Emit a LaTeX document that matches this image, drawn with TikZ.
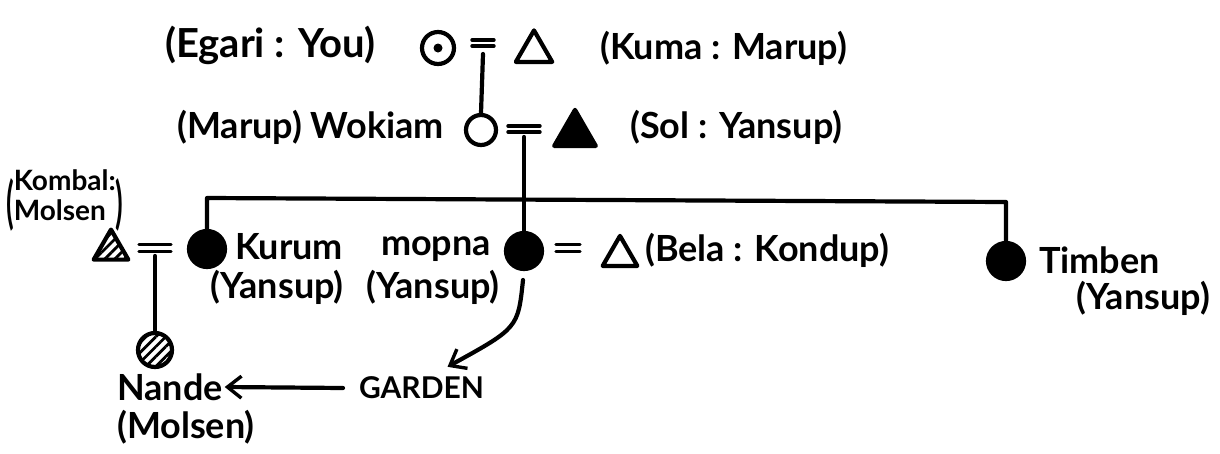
\documentclass[tikz,border=0pt]{standalone}
\usepackage{fontspec}
\setmainfont{Lato}
\usetikzlibrary{shapes.geometric,patterns.meta,arrows.meta}
\begin{document}
\begin{tikzpicture}[x=1pt,y=-1pt,line width=4.2pt,line cap=round,line join=round,
  lbl/.style={font=\fontsize{36}{38}\selectfont\bfseries,inner sep=0pt},
  big/.style={font=\fontsize{40}{42}\selectfont\bfseries,inner sep=0pt},
  small/.style={font=\fontsize{28}{30}\selectfont\bfseries,inner sep=0pt},
  fem/.style={circle,draw,minimum size=#1,inner sep=0pt},
  male/.style={regular polygon,regular polygon sides=3,draw,minimum size=#1,inner sep=0pt,anchor=south},
  hatch/.style={pattern={Lines[angle=45,distance=7pt,line width=2.8pt]}},
  eqline/.style={line width=3.4pt},
  barb/.style={-{Straight Barb[length=14pt,width=22pt,line width=3.4pt]}}
]
\useasboundingbox (0,0) rectangle (1220,453);

% generation 1
\node[big,anchor=west] (egarilbl) at (163,45) {(Egari : You)};
\node[fem=32pt] (egari) at (438,48) {};
\fill (egari.center) circle (4.5pt);
\node[male=42pt] (kuma) at (534,64) {};
\node[lbl,anchor=west] (kumalbl) at (598,48) {(Kuma : Marup)};
\coordinate (m1) at (483,43);
\draw[eqline] ([xshift=-11pt,yshift=-3pt]m1) -- ([xshift=11pt,yshift=-3pt]m1);
\draw[eqline] ([xshift=-11pt,yshift=3pt]m1) -- ([xshift=11pt,yshift=3pt]m1);

% generation 2
\node[lbl,anchor=east] (wokiamlbl) at (446,127) {(Marup) Wokiam};
\node[fem=30pt] (wokiam) at (481,130) {};
\node[male=48pt,fill] (sol) at (575,148) {};
\node[lbl,anchor=west] (sollbl) at (628,127) {(Sol : Yansup)};
\coordinate (m2) at (524,129);
\draw[eqline] ([xshift=-16pt,yshift=-3pt]m2) -- ([xshift=16pt,yshift=-3pt]m2);
\draw[eqline] ([xshift=-16pt,yshift=3pt]m2) -- ([xshift=16pt,yshift=3pt]m2);
\draw (m1 |- 0,54) -- (wokiam.north);

% generation 3
\node[fem=36pt,fill] (kurum) at (207,249) {};
\node[fem=36pt,fill] (mopna) at (524,251) {};
\node[fem=36pt,fill] (timben) at (1006,261) {};
\coordinate (barL) at (207,198);
\coordinate (barR) at (1006,202);
\draw (kurum.north) -- (barL) -- (barR) -- (timben.north);
\draw (m2 |- 0,137) -- (mopna.north);

\node[lbl,anchor=west] (kurumlbl) at (233,247) {Kurum};
\node[lbl,anchor=west] (kurumcl) at (208,287) {(Yansup)};
\node[lbl,anchor=east] (mopnalbl) at (493,249) {mopna};
\node[lbl,anchor=west] (mopnacl) at (364,287) {(Yansup)};
\node[lbl,anchor=west] (timbenlbl) at (1037,260) {Timben};
\node[lbl,anchor=east] (timbencl) at (1212,298) {(Yansup)};

% Kombal
\node[male=40pt,hatch,draw] (kombal) at (111,261) {};
\node[small,anchor=west] (komballbl) at (4,200) {\raisebox{-0.6em}{\scalebox{1}[2]{(}}\begin{tabular}{@{}l@{}}Kombal:\\Molsen\end{tabular}\raisebox{-0.6em}{\scalebox{1}[2]{)}}};
\coordinate (m3) at (155,248);
\draw[eqline] ([xshift=-16pt,yshift=-3.5pt]m3) -- ([xshift=16pt,yshift=-3.5pt]m3);
\draw[eqline] ([xshift=-16pt,yshift=3.5pt]m3) -- ([xshift=16pt,yshift=3.5pt]m3);

% Bela
\coordinate (m4) at (568,248);
\draw[eqline] ([xshift=-12pt,yshift=-3.5pt]m4) -- ([xshift=12pt,yshift=-3.5pt]m4);
\draw[eqline] ([xshift=-12pt,yshift=3.5pt]m4) -- ([xshift=12pt,yshift=3.5pt]m4);
\node[male=40pt] (bela) at (620,268) {};
\node[lbl,anchor=west] (belalbl) at (643,250) {(Bela : Kondup)};

% generation 4
\node[fem=34pt,hatch,draw] (nande) at (155,350) {};
\draw (m3 |- 0,256) -- (nande.north);
\node[lbl,anchor=west] (nandelbl) at (115,387) {Nande};
\node[lbl,anchor=west] (nandecl) at (115,427) {(Molsen)};
\node[small,font=\fontsize{30}{31}\selectfont\bfseries,anchor=west] (garden) at (357,388) {GARDEN};

% arrows
\coordinate (arrstart) at (523,280);
\draw[barb] (arrstart) .. controls (518,328) .. ([xshift=26pt,yshift=8pt]garden.north);
\draw[barb] (garden.west) ++(-14pt,0) coordinate (gw) (gw) -- (nandelbl.east);
\end{tikzpicture}
\end{document}
